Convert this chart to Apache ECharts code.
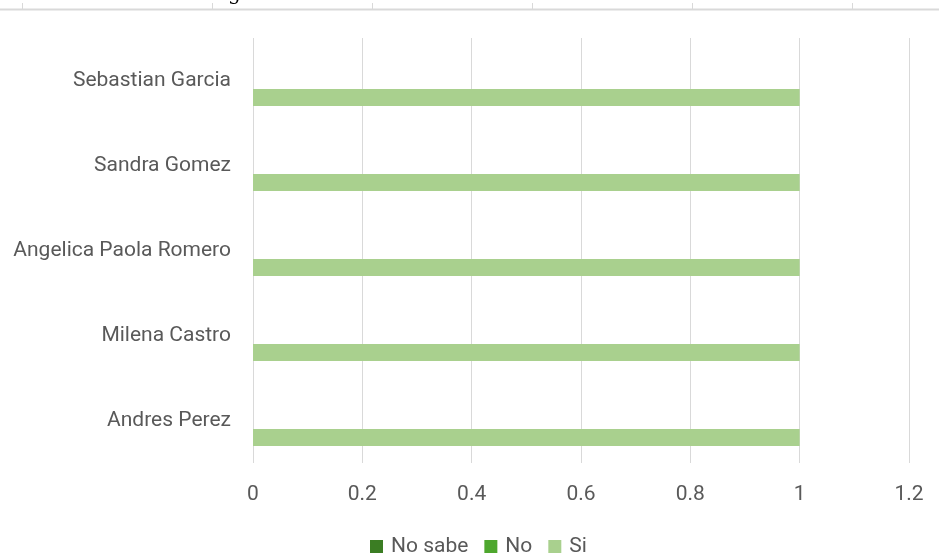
<!DOCTYPE html>
<html>
<head>
<meta charset="utf-8">
<style>
  html, body { margin: 0; padding: 0; background: #ffffff; }
  #chart { width: 939px; height: 556px; }
</style>
<script src="https://cdn.jsdelivr.net/npm/echarts@6/dist/echarts.min.js"></script>
</head>
<body>
<div id="chart"></div>
<script>
// Respondents, listed bottom to top
const people = ['Andres Perez', 'Milena Castro', 'Angelica Paola Romero', 'Sandra Gomez', 'Sebastian Garcia'];

// Answer counts per respondent
const noSabe = [0, 0, 0, 0, 0];
const no     = [0, 0, 0, 0, 0];
const si     = [1, 1, 1, 1, 1];

const seriesNames  = ['No sabe', 'No', 'Si'];
const seriesColors = ['#3b7d23', '#4ea72e', '#a9d08e'];

const labelColor = '#595959';
const gridColor  = '#d9d9d9';
const fontFamily = 'Roboto, "Liberation Sans", sans-serif';

const chart = echarts.init(document.getElementById('chart'), null, { renderer: 'canvas' });

const values = [noSabe, no, si];

chart.setOption({
  animation: false,
  backgroundColor: '#ffffff',
  textStyle: { fontFamily: fontFamily },
  grid: { left: 253, right: 30, top: 38, bottom: 93, containLabel: false },
  legend: {
    top: 531,
    left: 365,
    itemWidth: 13,
    itemHeight: 13,
    itemGap: 16,
    icon: 'rect',
    textStyle: { color: labelColor, fontSize: 21, fontFamily: fontFamily, padding: [0, 0, 0, 3] },
    data: seriesNames
  },
  xAxis: {
    type: 'value',
    min: 0,
    max: 1.2,
    interval: 0.2,
    axisLine: { show: false },
    axisTick: { show: false },
    splitLine: { show: true, lineStyle: { color: gridColor, width: 1 } },
    axisLabel: {
      color: labelColor,
      fontSize: 21,
      margin: 21,
      formatter: v => String(Math.round(v * 10) / 10)
    }
  },
  yAxis: {
    type: 'category',
    data: people,
    axisLine: { show: false },
    axisTick: { show: false },
    splitLine: { show: false },
    axisLabel: { color: labelColor, fontSize: 21, margin: 22 }
  },
  series: seriesNames.map((name, i) => ({
    name: name,
    type: 'bar',
    data: values[i],
    barGap: '0%',
    barCategoryGap: '40%',
    itemStyle: { color: seriesColors[i] }
  })),
  graphic: [
    // Bottom edge of the chart drawn above this one
    { type: 'line', silent: true, shape: { x1: 0, y1: 9.5, x2: 939, y2: 9.5 }, style: { stroke: '#d9d9d9', lineWidth: 2 } },
    ...[22, 212, 372, 532, 692, 852].map(x => ({
      type: 'line', silent: true,
      shape: { x1: x + 0.5, y1: 3, x2: x + 0.5, y2: 9 },
      style: { stroke: '#d9d9d9', lineWidth: 1 }
    })),
    { type: 'text', silent: true, left: 228, top: -15,
      style: { text: 'g', fill: '#000000', font: '20px "DejaVu Serif", serif' } }
  ]
});
</script>
</body>
</html>
